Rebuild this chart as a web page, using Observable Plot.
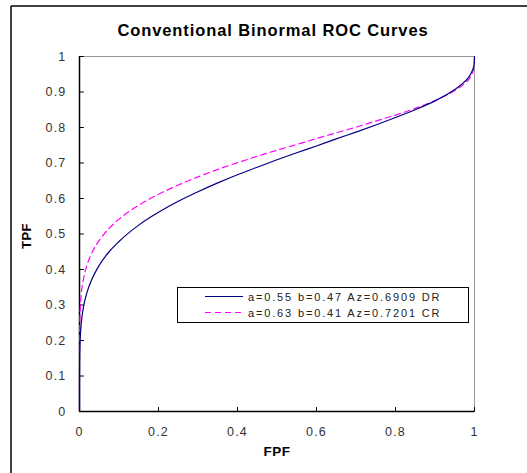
<!DOCTYPE html>
<html><head><meta charset="utf-8">
<script src="https://cdn.jsdelivr.net/npm/d3@7"></script>
<script src="https://cdn.jsdelivr.net/npm/@observablehq/plot@0.6"></script>
<style>
body{margin:0;background:#fff}
#chart{position:relative;width:527px;height:473px}
svg{overflow:visible}
</style>
</head><body><div id="chart"></div>
<script>
const fpf = [0, 0.00001, 0.0001, 0.001, 0.005, 0.01, 0.02, 0.03, 0.05, 0.075, 0.1, 0.15, 0.2, 0.25, 0.3, 0.35, 0.4, 0.45, 0.5, 0.55, 0.6, 0.65, 0.7, 0.75, 0.8, 0.85, 0.9, 0.95, 0.975, 0.99, 0.999, 1];
const tpfDR = [0, 0.073, 0.116, 0.184, 0.254, 0.294, 0.339, 0.369, 0.412, 0.450, 0.479, 0.525, 0.561, 0.592, 0.619, 0.644, 0.667, 0.688, 0.709, 0.729, 0.748, 0.768, 0.787, 0.807, 0.828, 0.850, 0.875, 0.907, 0.929, 0.950, 0.977, 1];
const tpfCR = [0, 0.132, 0.185, 0.262, 0.335, 0.373, 0.416, 0.444, 0.482, 0.516, 0.542, 0.581, 0.612, 0.638, 0.661, 0.682, 0.701, 0.719, 0.736, 0.752, 0.769, 0.785, 0.801, 0.818, 0.835, 0.854, 0.876, 0.904, 0.924, 0.943, 0.971, 1];
const xTicks = [0, 0.2, 0.4, 0.6, 0.8, 1];
const yTicks = [0, 0.1, 0.2, 0.3, 0.4, 0.5, 0.6, 0.7, 0.8, 0.9, 1];
const seriesLabels = ["a=0.55 b=0.47 Az=0.6909 DR", "a=0.63 b=0.41 Az=0.7201 CR"];
const seriesColors = ["#000080", "#ff00ff"];
const titleText = "Conventional Binormal ROC Curves";
const xLabel = "FPF";
const yLabel = "TPF";

const dr = fpf.map((x, i) => ({x, y: tpfDR[i]}));
const cr = fpf.map((x, i) => ({x, y: tpfCR[i]}));

const tickUp = {draw(ctx, l) { ctx.moveTo(0, 0); ctx.lineTo(0, -l); }};
const tickRight = {draw(ctx, l) { ctx.moveTo(0, 0); ctx.lineTo(l, 0); }};

const plot = Plot.plot({
  width: 527, height: 473,
  marginLeft: 79, marginRight: 53, marginTop: 56, marginBottom: 62,
  style: {fontFamily: "'Liberation Sans', Arial, sans-serif", fontSize: "12.5px", background: "white", color: "#333"},
  x: {domain: [0, 1]},
  y: {domain: [0, 1]},
  marks: [
    Plot.frame({stroke: "#999"}),
    Plot.axisX({ticks: xTicks, tickSize: 0, tickPadding: 16, tickFormat: d => String(d), fill: "#333", label: null}),
    Plot.axisY({ticks: yTicks, tickSize: 0, tickPadding: 13, tickFormat: d => String(d), fill: "#333", label: null}),
    Plot.vector(xTicks, {x: d => d, frameAnchor: "bottom", length: 4, anchor: "start", shape: tickUp, stroke: "#000", strokeWidth: 1}),
    Plot.vector(yTicks, {y: d => d, frameAnchor: "left", length: 4, anchor: "start", shape: tickRight, stroke: "#000", strokeWidth: 1}),
    Plot.ruleY([0], {stroke: "#000", strokeWidth: 1.5}),
    Plot.ruleX([0], {stroke: "#000", strokeWidth: 1.5}),
    Plot.line(cr, {x: "x", y: "y", stroke: seriesColors[1], strokeWidth: 1.2, strokeDasharray: "6,4", curve: "monotone-x"}),
    Plot.line(dr, {x: "x", y: "y", stroke: seriesColors[0], strokeWidth: 1.2, curve: "monotone-x"})
  ]
});

const svg = d3.select(plot);
svg.selectAll("[aria-label='x-axis tick label'] text, [aria-label='y-axis tick label'] text").style("letter-spacing", "1.2px");

// outer frame
svg.append("line").attr("x1", 11).attr("x2", 527).attr("y1", 6).attr("y2", 6).attr("stroke", "#000").attr("stroke-width", 1.5);
svg.append("line").attr("x1", 11).attr("x2", 11).attr("y1", 6).attr("y2", 473).attr("stroke", "#000").attr("stroke-width", 1.5);

// title & axis labels
svg.append("text").attr("x", 273).attr("y", 36).attr("text-anchor", "middle")
  .style("font-size", "16.5px").style("font-weight", "bold").style("letter-spacing", "0.9px").attr("fill", "#000").text(titleText);
svg.append("text").attr("x", 277).attr("y", 456).attr("text-anchor", "middle")
  .style("font-size", "13.5px").style("font-weight", "bold").style("letter-spacing", "0.5px").attr("fill", "#000").text(xLabel);
svg.append("text").attr("transform", "translate(31,236) rotate(-90)").attr("text-anchor", "middle")
  .style("font-size", "13px").style("font-weight", "bold").style("letter-spacing", "0.5px").attr("fill", "#000").text(yLabel);

// legend
const lg = svg.append("g");
lg.append("rect").attr("x", 177.5).attr("y", 287.5).attr("width", 291).attr("height", 35)
  .attr("fill", "white").attr("stroke", "#000").attr("stroke-width", 1);
seriesLabels.forEach((t, i) => {
  const cy = 296.5 + i * 16;
  lg.append("line").attr("x1", 205).attr("x2", 243).attr("y1", cy).attr("y2", cy)
    .attr("stroke", seriesColors[i]).attr("stroke-width", 1.2).attr("stroke-dasharray", i ? "6,4" : null);
  lg.append("text").attr("x", 248).attr("y", cy + 4).attr("text-anchor", "start")
    .style("font-size", "11px").style("letter-spacing", "1.85px")
    .attr("fill", "#222").text(t);
});

document.getElementById("chart").appendChild(plot);
</script>
</body></html>
